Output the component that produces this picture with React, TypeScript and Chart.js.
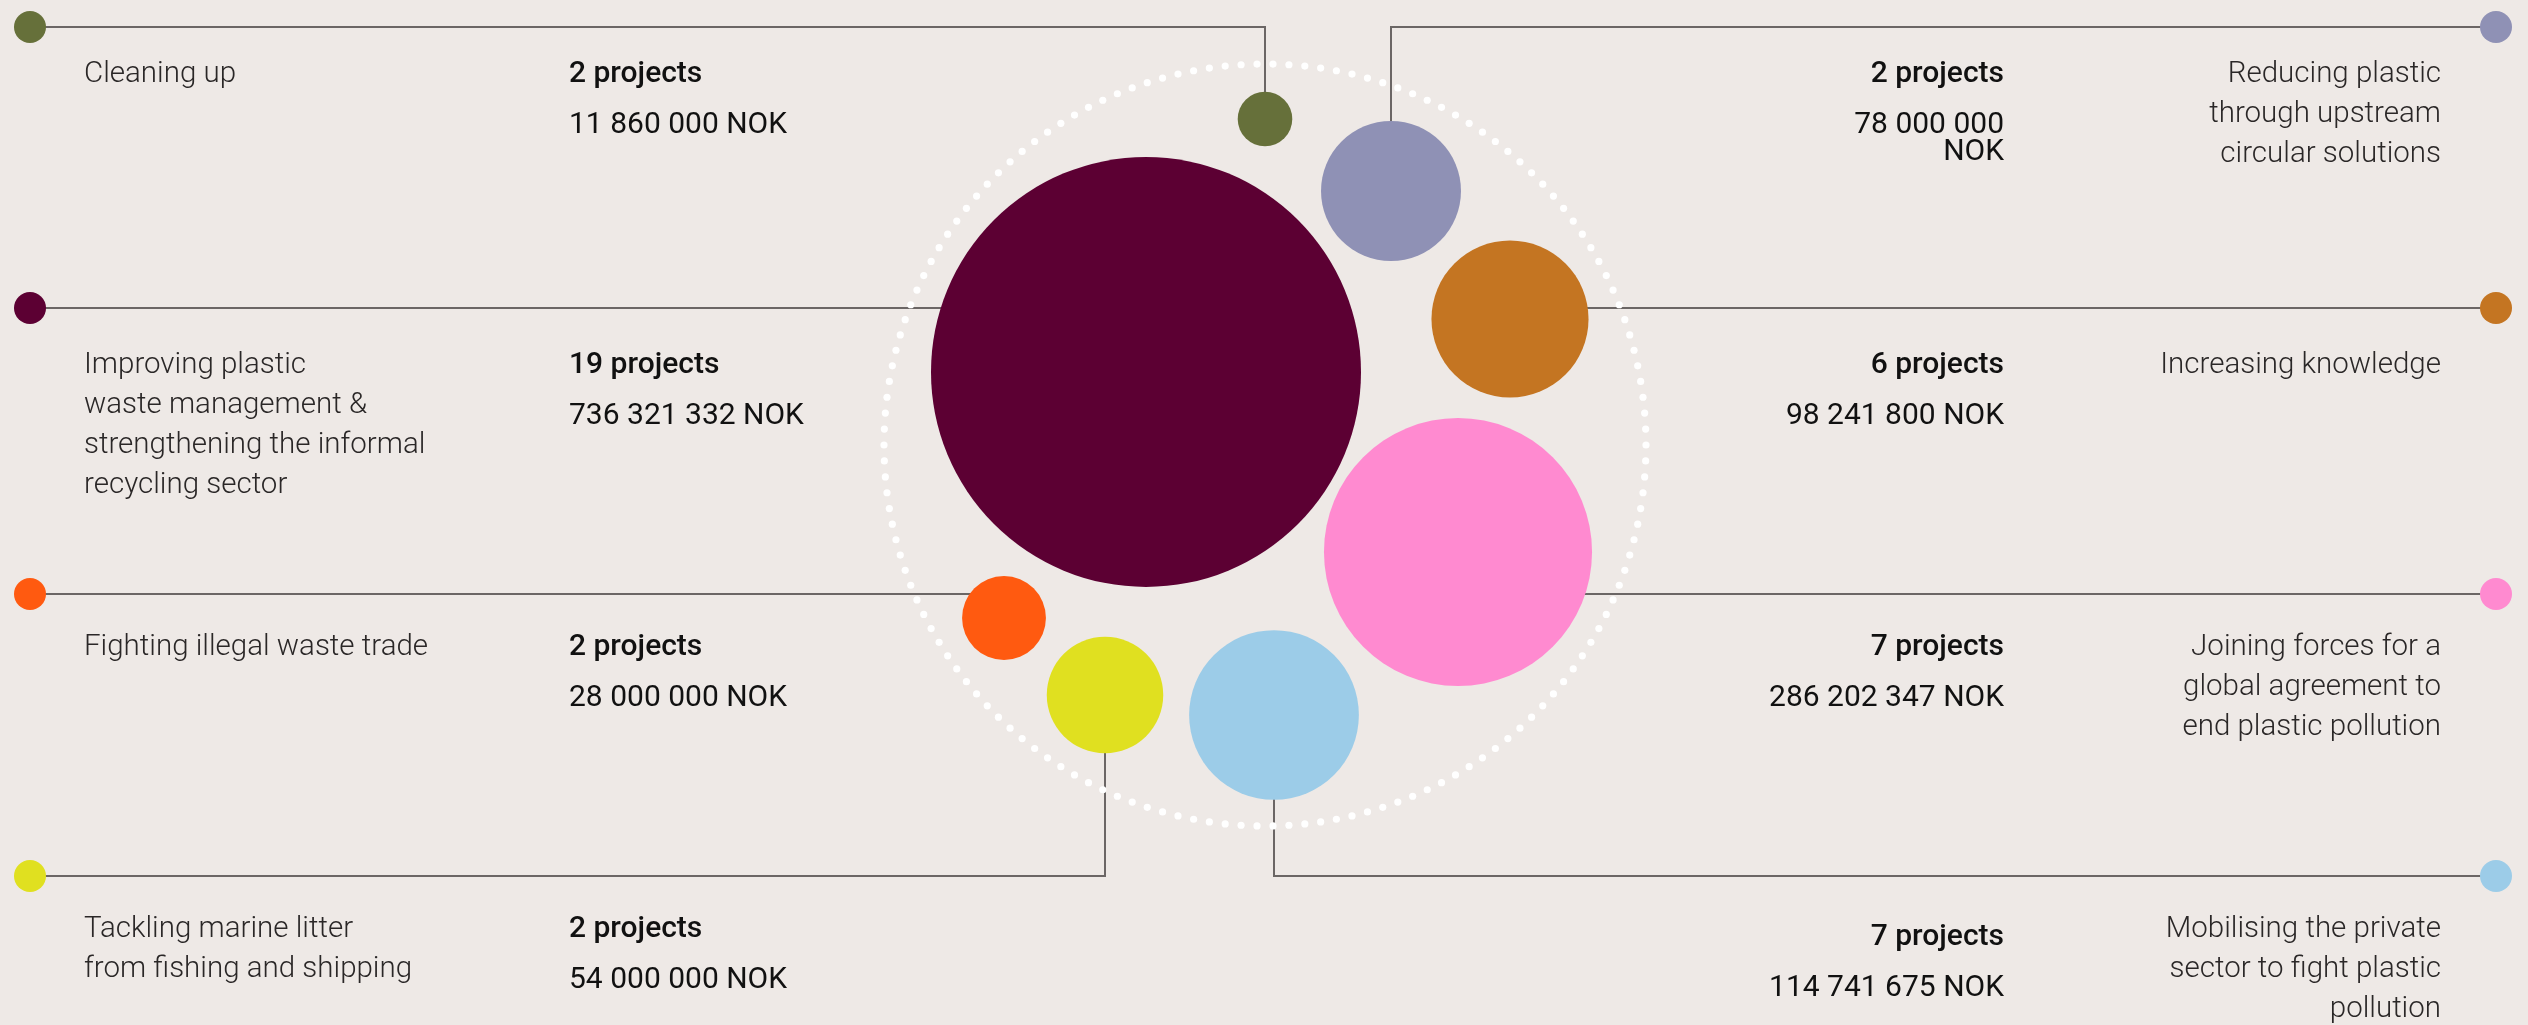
import React, { useEffect, useRef } from "react";
import { Chart, registerables } from "chart.js";

Chart.register(...registerables);

const W = 2528;
const H = 1025;
const BG = "#EEE9E6";
const LINE = "#6b6665";
const FONT = "Roboto, 'Liberation Sans', sans-serif";

// ---- data ----
const categories: string[][] = [
  ["Cleaning up"],
  ["Improving plastic", "waste management &", "strengthening the informal", "recycling sector"],
  ["Fighting illegal waste trade"],
  ["Tackling marine litter", "from fishing and shipping"],
  ["Reducing plastic", "through upstream", "circular solutions"],
  ["Increasing knowledge"],
  ["Joining forces for a", "global agreement to", "end plastic pollution"],
  ["Mobilising the private", "sector to fight plastic", "pollution"],
];
const projectCounts = [2, 19, 2, 2, 2, 6, 7, 7];
const amountsNOK = [11860000, 736321332, 28000000, 54000000, 78000000, 98241800, 286202347, 114741675];
const amountLabels: string[][] = [
  ["11 860 000 NOK"],
  ["736 321 332 NOK"],
  ["28 000 000 NOK"],
  ["54 000 000 NOK"],
  ["78 000 000", "NOK"],
  ["98 241 800 NOK"],
  ["286 202 347 NOK"],
  ["114 741 675 NOK"],
];
const colors = ["#66703A", "#5C0033", "#FF5A10", "#E0E020", "#8F91B5", "#C47522", "#FF8AD0", "#9CCCE8"];
const sides = ["left", "left", "left", "left", "right", "right", "right", "right"];
const rowIndex = [0, 1, 2, 3, 0, 1, 2, 3];
// packed bubble centres (layout units)
const bubbleX = [1265, 1146, 1004, 1105, 1391, 1510, 1458, 1274];
const bubbleY = [119, 372, 618, 695, 191, 319, 552, 715];

// ---- layout ----
const MAX_R = 215;
const ROW_Y = [27, 308, 594, 876];
const DOT_X_LEFT = 30;
const DOT_X_RIGHT = 2496;
const DOT_R = 16;
const CAT_X_LEFT = 84;
const NUM_X_LEFT = 569;
const NUM_X_RIGHT = 2004;
const CAT_X_RIGHT = 2441;
const CAT_BASE = [82, 373, 655, 937, 82, 373, 655, 937];
const NUM_BASE = [82, 373, 655, 937, 82, 373, 655, 945];
const AMT_GAP = 51;
const CAT_LH = 40;
const AMT_LH = 27;
const RING = { cx: 1265, cy: 445, r: 381, dots: 150, dotR: 3.6 };

const maxAmount = Math.max(...amountsNOK);

export default function App() {
  const ref = useRef<HTMLCanvasElement | null>(null);

  useEffect(() => {
    document.body.style.margin = "0";
    const canvas = ref.current!;
    const decor = {
      id: "decor",
      beforeDatasetsDraw(chart: any) {
        const ctx = chart.ctx;
        const xs = chart.scales.x;
        const ys = chart.scales.y;
        ctx.save();
        // connectors
        ctx.strokeStyle = LINE;
        ctx.lineWidth = 2;
        for (let i = 0; i < bubbleX.length; i++) {
          const rowY = ROW_Y[rowIndex[i]];
          const dx = sides[i] === "left" ? DOT_X_LEFT : DOT_X_RIGHT;
          const px = Math.round(xs.getPixelForValue(bubbleX[i]));
          const py = ys.getPixelForValue(bubbleY[i]);
          ctx.beginPath();
          ctx.moveTo(dx, rowY);
          ctx.lineTo(px, rowY);
          ctx.lineTo(px, py);
          ctx.stroke();
        }
        // dotted ring
        ctx.fillStyle = "#ffffff";
        const cx = xs.getPixelForValue(RING.cx);
        const cy = ys.getPixelForValue(RING.cy);
        for (let k = 0; k < RING.dots; k++) {
          const a = (k / RING.dots) * Math.PI * 2;
          ctx.beginPath();
          ctx.arc(cx + RING.r * Math.cos(a), cy + RING.r * Math.sin(a), RING.dotR, 0, Math.PI * 2);
          ctx.fill();
        }
        ctx.restore();
      },
      afterDatasetsDraw(chart: any) {
        const ctx = chart.ctx;
        ctx.save();
        for (let i = 0; i < bubbleX.length; i++) {
          const left = sides[i] === "left";
          const rowY = ROW_Y[rowIndex[i]];
          // end dots
          ctx.fillStyle = colors[i];
          ctx.beginPath();
          ctx.arc(left ? DOT_X_LEFT : DOT_X_RIGHT, rowY, DOT_R, 0, Math.PI * 2);
          ctx.fill();
          // category text
          ctx.textBaseline = "alphabetic";
          ctx.fillStyle = "#2a2727";
          ctx.font = `300 29.5px ${FONT}`;
          ctx.textAlign = left ? "left" : "right";
          categories[i].forEach((ln, j) => {
            ctx.fillText(ln, left ? CAT_X_LEFT : CAT_X_RIGHT, CAT_BASE[i] + j * CAT_LH);
          });
          // numbers
          ctx.fillStyle = "#111111";
          ctx.font = `500 30px ${FONT}`;
          const nx = left ? NUM_X_LEFT : NUM_X_RIGHT;
          ctx.fillText(`${projectCounts[i]} projects`, nx, NUM_BASE[i]);
          ctx.font = `400 30px ${FONT}`;
          amountLabels[i].forEach((ln, j) => {
            ctx.fillText(ln, nx, NUM_BASE[i] + AMT_GAP + j * AMT_LH);
          });
        }
        ctx.restore();
      },
    };

    const chart = new Chart(canvas, {
      type: "bubble",
      data: {
        datasets: [
          {
            label: "Funding",
            data: bubbleX.map((x, i) => ({
              x,
              y: bubbleY[i],
              r: MAX_R * Math.sqrt(amountsNOK[i] / maxAmount),
            })),
            backgroundColor: colors,
            borderWidth: 0,
            hoverBorderWidth: 0,
            hoverRadius: 0,
            clip: false,
          } as any,
        ],
      },
      options: {
        animation: false,
        responsive: false,
        maintainAspectRatio: false,
        devicePixelRatio: 1,
        events: [],
        layout: { padding: 0, autoPadding: false },
        plugins: { legend: { display: false }, tooltip: { enabled: false } },
        scales: {
          x: { type: "linear", min: 0, max: W, display: false },
          y: { type: "linear", min: 0, max: H, reverse: true, display: false },
        },
      },
      plugins: [decor],
    });
    return () => chart.destroy();
  }, []);

  return (
    <div style={{ position: "fixed", left: 0, top: 0, width: W, height: H, background: BG }}>
      <canvas ref={ref} width={W} height={H} style={{ display: "block", width: W, height: H }} />
    </div>
  );
}
